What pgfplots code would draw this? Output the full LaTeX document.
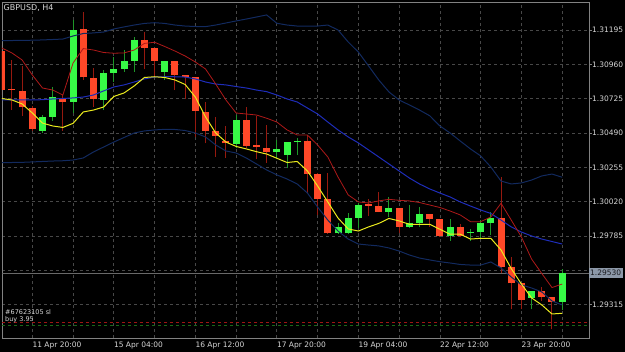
\documentclass[border=0pt]{standalone}
\usepackage{fontspec}
\setmainfont{DejaVu Sans}
\usepackage{pgfplots}
\pgfplotsset{compat=1.18}
\usepackage{pgfplotstable}

\definecolor{bull}{RGB}{55,250,70}
\definecolor{bear}{RGB}{255,72,40}
\definecolor{bullwick}{RGB}{30,150,40}
\definecolor{bearwick}{RGB}{150,25,15}
\definecolor{gridc}{RGB}{72,72,72}
\definecolor{framec}{RGB}{130,130,130}
\definecolor{bandc}{RGB}{18,42,95}
\definecolor{midc}{RGB}{30,45,185}
\definecolor{yel}{RGB}{235,235,30}
\definecolor{redma}{RGB}{175,25,25}
\definecolor{txt}{RGB}{215,215,215}
\definecolor{pricebox}{RGB}{140,152,168}

% bullish candles: index open high low close
\pgfplotstableread{
i O H L C
1 1.30506 1.30613 1.30492 1.30600
2 1.30600 1.30803 1.30574 1.30734
4 1.30704 1.31263 1.30629 1.31195
7 1.30714 1.30921 1.30647 1.30899
8 1.30899 1.31012 1.30841 1.30930
9 1.30928 1.31058 1.30910 1.30983
10 1.30985 1.31149 1.30910 1.31127
13 1.30910 1.30983 1.30853 1.30983
20 1.30415 1.30613 1.30385 1.30579
24 1.30360 1.30442 1.30317 1.30378
25 1.30339 1.30428 1.30248 1.30428
26 1.30428 1.30456 1.30339 1.30437
30 1.29803 1.29872 1.29799 1.29847
31 1.29803 1.29940 1.29799 1.29910
32 1.29910 1.30009 1.29838 1.29997
35 1.29951 1.30054 1.29917 1.29979
37 1.29849 1.29997 1.29838 1.29872
38 1.29876 1.29985 1.29849 1.29933
41 1.29787 1.29899 1.29753 1.29844
43 1.29808 1.29831 1.29753 1.29812
44 1.29810 1.29894 1.29764 1.29872
45 1.29872 1.29951 1.29792 1.29910
49 1.29363 1.29408 1.29283 1.29408
52 1.29335 1.29557 1.29278 1.29530
}\upc

% bearish candles
\pgfplotstableread{
i O H L C
-3 1.31053 1.31092 1.30750 1.30784
-2 1.30788 1.30990 1.30647 1.30781
-1 1.30775 1.30949 1.30606 1.30666
0 1.30663 1.30675 1.30504 1.30515
3 1.30732 1.30750 1.30506 1.30704
5 1.31200 1.31316 1.30853 1.30871
6 1.30866 1.30935 1.30668 1.30723
11 1.31127 1.31183 1.30926 1.31074
12 1.31070 1.31072 1.30875 1.30985
14 1.30983 1.30983 1.30784 1.30887
15 1.30887 1.30887 1.30721 1.30871
16 1.30871 1.30871 1.30465 1.30641
17 1.30636 1.30704 1.30419 1.30504
18 1.30504 1.30602 1.30328 1.30469
19 1.30433 1.30538 1.30321 1.30419
21 1.30579 1.30670 1.30385 1.30403
22 1.30408 1.30606 1.30310 1.30394
23 1.30389 1.30545 1.30283 1.30362
27 1.30437 1.30476 1.30081 1.30209
28 1.30209 1.30214 1.29929 1.30038
29 1.30038 1.30214 1.29799 1.29803
33 1.30002 1.30036 1.29922 1.29992
34 1.29990 1.30088 1.29947 1.29949
36 1.29979 1.29979 1.29803 1.29849
39 1.29933 1.29933 1.29849 1.29901
40 1.29899 1.29899 1.29780 1.29787
42 1.29844 1.29865 1.29781 1.29787
46 1.29910 1.30189 1.29530 1.29575
47 1.29571 1.29639 1.29283 1.29461
48 1.29461 1.29461 1.29283 1.29347
50 1.29408 1.29434 1.29342 1.29369
51 1.29369 1.29369 1.29146 1.29335
}\downc

% indicators: upper band, middle band, lower band, yellow MA, red MA
\pgfplotstableread{
i up mid low yel red
-3 1.31122 1.30716 1.30287 1.30726 1.31072
-2 1.31123 1.30716 1.30288 1.30716 1.31038
-1 1.31124 1.30716 1.30289 1.30689 1.30990
0 1.31125 1.30716 1.30292 1.30627 1.30887
1 1.31127 1.30718 1.30295 1.30558 1.30798
2 1.31130 1.30723 1.30298 1.30538 1.30784
3 1.31133 1.30726 1.30300 1.30528 1.30750
4 1.31154 1.30730 1.30305 1.30556 1.30969
5 1.31171 1.30736 1.30319 1.30634 1.31068
6 1.31175 1.30750 1.30360 1.30647 1.31058
7 1.31181 1.30778 1.30394 1.30668 1.31041
8 1.31202 1.30805 1.30428 1.30740 1.31036
9 1.31216 1.30819 1.30459 1.30764 1.31038
10 1.31229 1.30839 1.30490 1.30812 1.31058
11 1.31240 1.30860 1.30504 1.30870 1.31103
12 1.31245 1.30873 1.30511 1.30875 1.31111
13 1.31240 1.30875 1.30515 1.30870 1.31082
14 1.31229 1.30875 1.30514 1.30853 1.31051
15 1.31222 1.30873 1.30507 1.30822 1.31017
16 1.31219 1.30860 1.30490 1.30736 1.30976
17 1.31218 1.30839 1.30463 1.30600 1.30928
18 1.31229 1.30825 1.30408 1.30490 1.30825
19 1.31243 1.30819 1.30367 1.30428 1.30716
20 1.31257 1.30808 1.30353 1.30398 1.30627
21 1.31270 1.30798 1.30319 1.30381 1.30620
22 1.31284 1.30784 1.30278 1.30362 1.30613
23 1.31298 1.30773 1.30237 1.30346 1.30591
24 1.31241 1.30750 1.30203 1.30317 1.30565
25 1.31229 1.30723 1.30175 1.30288 1.30511
26 1.31222 1.30702 1.30141 1.30295 1.30476
27 1.31222 1.30661 1.30079 1.30230 1.30476
28 1.31222 1.30620 1.29983 1.30127 1.30408
29 1.31229 1.30565 1.29894 1.30018 1.30326
30 1.31195 1.30511 1.29819 1.29908 1.30189
31 1.31113 1.30463 1.29764 1.29833 1.30066
32 1.31044 1.30422 1.29730 1.29819 1.30018
33 1.30949 1.30374 1.29723 1.29847 1.30011
34 1.30853 1.30326 1.29717 1.29871 1.30025
35 1.30771 1.30278 1.29703 1.29905 1.30036
36 1.30716 1.30230 1.29682 1.29888 1.30029
37 1.30682 1.30182 1.29655 1.29865 1.30025
38 1.30647 1.30141 1.29634 1.29865 1.30014
39 1.30608 1.30107 1.29621 1.29865 1.29997
40 1.30538 1.30079 1.29609 1.29831 1.29980
41 1.30490 1.30052 1.29600 1.29797 1.29956
42 1.30435 1.30018 1.29590 1.29797 1.29929
43 1.30381 1.29990 1.29586 1.29764 1.29883
44 1.30333 1.29963 1.29586 1.29769 1.29883
45 1.30257 1.29939 1.29607 1.29769 1.29915
46 1.30161 1.29894 1.29566 1.29689 1.30009
47 1.30141 1.29847 1.29504 1.29562 1.29894
48 1.30148 1.29812 1.29450 1.29456 1.29778
49 1.30168 1.29785 1.29429 1.29361 1.29627
50 1.30196 1.29764 1.29402 1.29313 1.29528
51 1.30209 1.29747 1.29340 1.29251 1.29432
52 1.30187 1.29730 1.29313 1.29256 1.29456
}\ind

\begin{document}
\begin{tikzpicture}
\fill[black] (0,0) rectangle (625pt,352pt);
\begin{axis}[
  at={(2pt,14pt)}, anchor=south west,
  scale only axis, width=587pt, height=336pt,
  xmin=-2.974, xmax=54.632, ymin=1.290867, ymax=1.313867,
  axis background/.style={fill=black},
  axis line style={draw=framec, line width=0.9pt},
  grid=major,
  major grid style={draw=gridc, line width=0.8pt, dash pattern=on 3pt off 3pt},
  xtick={0,4,...,52},
  xticklabels={11 Apr 20:00,,15 Apr 04:00,,16 Apr 12:00,,17 Apr 20:00,,19 Apr 04:00,,22 Apr 12:00,,23 Apr 20:00,},
  ytick={1.31195,1.30960,1.30725,1.30490,1.30255,1.30020,1.29785,1.29550,1.29315},
  yticklabels={1.31195,1.30960,1.30725,1.30490,1.30255,1.30020,1.29785,,1.29315},
  yticklabel pos=right, ytick pos=right, xtick pos=bottom,
  tick align=outside, major tick length=2.5pt,
  ytick style={draw=framec, line width=0.8pt},
  xtick style={draw=none},
  yticklabel style={anchor=west, inner sep=0pt, xshift=0.5pt, text=txt, font=\fontsize{7.5}{9}\selectfont},
  xticklabel style={anchor=north west, inner sep=0pt, xshift=0pt, yshift=-1pt, text=txt, font=\fontsize{7.5}{9}\selectfont},
  clip=true,
]
% current price, stop loss and order lines
\addplot[forget plot, draw={rgb,255:red,105;green,105;blue,105}, line width=0.9pt] coordinates {(-2.974,1.29530) (54.632,1.29530)};
\addplot[forget plot, draw={rgb,255:red,160;green,20;blue,20}, line width=0.8pt, dash pattern=on 3pt off 3pt] coordinates {(-2.974,1.29191) (54.632,1.29191)};
\addplot[forget plot, draw={rgb,255:red,25;green,105;blue,25}, line width=0.8pt, dash pattern=on 3pt off 3pt] coordinates {(-2.974,1.29174) (54.632,1.29174)};

% wicks
\addplot[forget plot, draw=none, mark=none, error bars/.cd, y dir=plus, y explicit, error mark=none,
  error bar style={draw=bullwick, line width=1pt}]
  table[x=i, y=L, y error plus expr=\thisrow{H}-\thisrow{L}] {\upc};
\addplot[forget plot, draw=none, mark=none, error bars/.cd, y dir=plus, y explicit, error mark=none,
  error bar style={draw=bearwick, line width=1pt}]
  table[x=i, y=L, y error plus expr=\thisrow{H}-\thisrow{L}] {\downc};
% bodies
\addplot[forget plot, draw=none, mark=none, error bars/.cd, y dir=plus, y explicit, error mark=none,
  error bar style={draw=bull, line width=7pt}]
  table[x=i, y=O, y error plus expr=\thisrow{C}-\thisrow{O}] {\upc};
\addplot[forget plot, draw=none, mark=none, error bars/.cd, y dir=plus, y explicit, error mark=none,
  error bar style={draw=bear, line width=7pt}]
  table[x=i, y=C, y error plus expr=\thisrow{O}-\thisrow{C}] {\downc};

% indicators
\addplot[forget plot, draw=bandc, line width=1pt] table[x=i, y=up] {\ind};
\addplot[forget plot, draw=bandc, line width=1pt] table[x=i, y=low] {\ind};
\addplot[forget plot, draw=midc, line width=1pt] table[x=i, y=mid] {\ind};
\addplot[forget plot, draw=redma, line width=0.8pt] table[x=i, y=red] {\ind};
\addplot[forget plot, draw=yel, line width=1pt] table[x=i, y=yel] {\ind};

\node[anchor=north west, inner sep=0pt, text=txt, font=\fontsize{8}{9}\selectfont] at (rel axis cs:0,1) [xshift=1.5pt, yshift=-2.5pt] {GBPUSD, H4};
\node[anchor=base west, inner sep=0pt, text=txt, font=\fontsize{6.5}{7}\selectfont] at (axis cs:-2.68,1.29245) {\#67623105 sl};
\node[anchor=base west, inner sep=0pt, text=txt, font=\fontsize{6.5}{7}\selectfont] at (axis cs:-2.68,1.29202) {buy 3.95};
\coordinate (cp) at (axis cs:54.632,1.29530);
\end{axis}
\node[anchor=west, fill=pricebox, text={rgb,255:red,25;green,25;blue,30}, inner xsep=1.5pt, inner ysep=0pt, minimum height=10.5pt, font=\fontsize{7.5}{9}\selectfont] at ([xshift=-0.5pt]cp) {1.29530};
\pgfresetboundingbox
\useasboundingbox (0,0) rectangle (625pt,352pt);
\end{tikzpicture}
\end{document}
